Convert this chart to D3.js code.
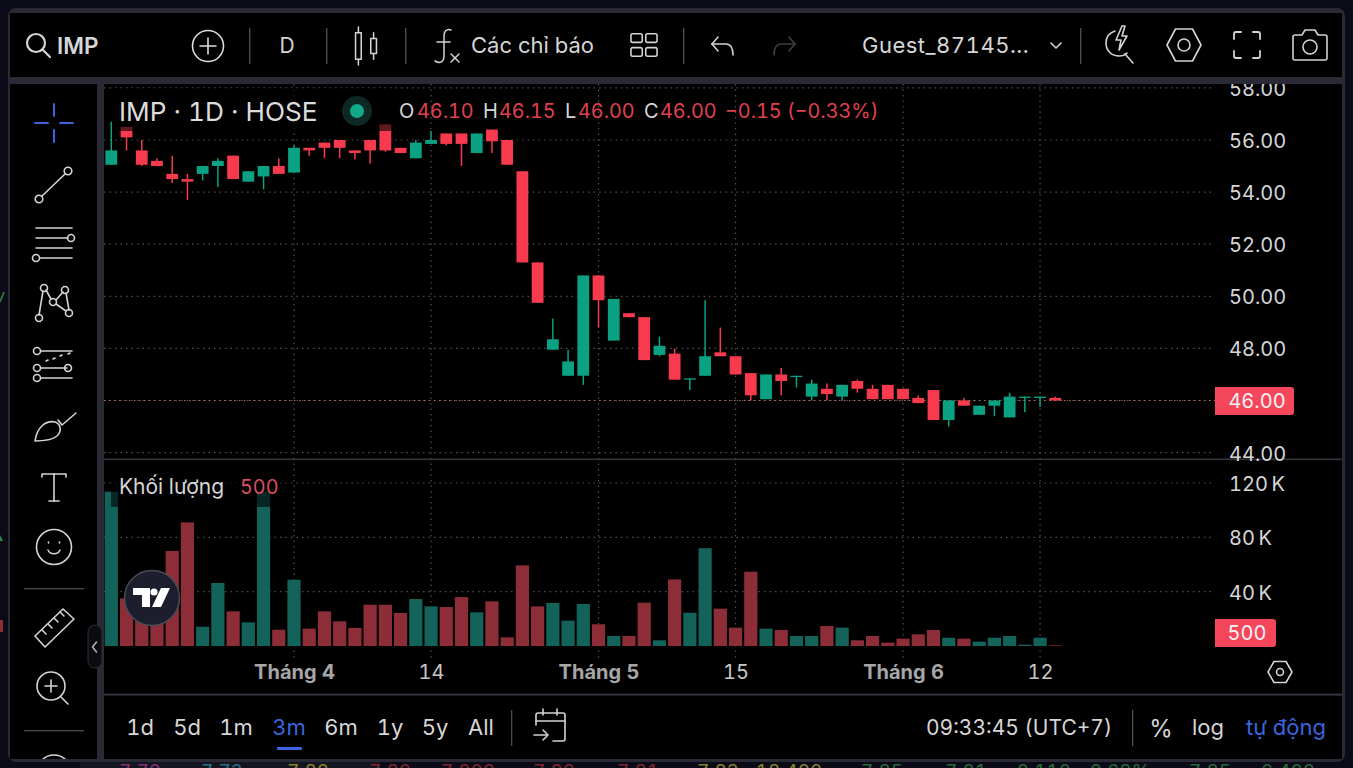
<!DOCTYPE html>
<html>
<head>
<meta charset="utf-8">
<title>IMP · 1D · HOSE</title>
<script src="https://cdn.jsdelivr.net/npm/d3@7/dist/d3.min.js"></script>
<style>
html,body{margin:0;padding:0;background:#0a0b17;overflow:hidden}
svg{display:block}
text{font-family:Inter,"Noto Sans",sans-serif;font-variant-numeric:tabular-nums}
</style>
</head>
<body>
<svg id="chart" width="1353" height="768"></svg>
<script>
// Daily OHLC prices for IMP
const opens = [55.05,56.5,55.6,55.2,54.7,54.5,54.7,55,55.4,54.4,54.6,55,54.75,55.7,55.9,56,55.6,56,56.6,55.7,55.3,55.85,56.25,56.25,55.5,56.4,56,54.8,51.3,47.95,46.95,46.95,50.8,48.3,49.35,49.2,47.75,47.8,46.8,46.95,47.85,47.7,47.05,46.05,47,46.9,46.15,46.45,46.15,46.75,46.45,46.6,46.45,46.1,46.4,45.25,46,45.45,45.8,45.35,46.1,46.1,46.1];
const highs = [56.7,56.5,56,55.3,55.4,54.7,55,55.3,55.4,54.8,55,55.3,55.8,55.7,55.9,56,55.6,56,56.6,55.7,56,56.35,56.25,56.25,56.25,56.4,56,54.8,51.3,49.15,47.95,50.8,50.8,49.9,49.35,49.2,48.45,48,46.85,49.85,48.8,47.7,47.05,47,47.25,46.95,46.8,46.65,46.6,46.8,46.6,46.6,46.45,46.2,46.4,46,46.1,45.8,46,46.3,46.15,46.15,46.15];
const lows = [55.05,55.6,55,55,54.35,53.7,54.45,54.2,54.5,54.4,54.1,54.7,54.75,55.4,55.3,55.3,55.25,55.1,55.55,55.5,55.3,55.85,55.8,55,55.5,55.5,55.05,51.3,49.75,47.95,46.95,46.6,48.8,48.3,49.2,47.55,47.7,46.8,46.4,46.95,47.7,47,46,46.05,46.2,46.5,46,46,46,46.3,46.05,46.05,46.05,45.9,45.25,45,45.8,45.45,45.4,45.35,45.55,45.75,46];
const closes = [55.6,56.1,55.05,55,54.5,54.4,55,55.2,54.5,54.8,55,54.7,55.7,55.6,55.7,55.7,55.5,55.6,55.6,55.5,55.9,56,55.85,55.85,56.25,55.95,55.05,51.3,49.75,48.35,47.5,50.8,49.85,49.9,49.2,47.55,48.1,46.8,46.85,47.7,47.7,47,46.2,47,46.75,46.95,46.65,46.25,46.6,46.45,46.05,46.05,46.05,45.9,45.25,46,45.8,45.8,46,46.15,46.15,46.15,46];
const volumes = [113600,35000,30000,38000,70000,91000,14200,46400,25500,17400,113600,12000,48800,12800,25500,18200,13300,30400,30400,24300,34600,29200,28700,36000,24800,32900,6400,59400,29200,31700,18700,30900,16000,7400,7400,31900,4200,49000,24500,72000,27500,13500,54700,12800,11800,7400,7400,14700,13500,4200,7400,2500,5400,8600,11800,6100,5400,3200,6100,7400,1000,6100,500];

// Axis ticks
const priceTicks = [44,46,48,50,52,54,56,58];
const volumeTicks = [40000,80000,120000];
const timeTickIndex = [12,21,32,41,52,61];
const timeTickLabels = ["Tháng 4","14","Tháng 5","15","Tháng 6","12"];
const monthTicks = ["Tháng 4","Tháng 5","Tháng 6"];

// Lower toolbar entries
const ranges = ["1d","5d","1m","3m","6m","1y","5y","All"];
const rangePositions = [140,187,236,289,341,390,435,481];
const activeRange = "3m";

// Quote readout
const lastPrice = 46.00;
const lastVolume = 500;
const quote = [["O","46.10"],["H","46.15"],["L","46.00"],["C","46.00"]];

// Table row peeking out under the window
const stripText = ["7.72","7.73","7.82","7.80","7.800","7.82","7.81","7.83","18,400","7.85","7.81","8.112","0.68%","7.85","6,400"];
const stripPos = [140,222,308,390,468,554,638,718,789,882,966,1044,1120,1210,1288];
const stripColor = ["#8a2c7c","#26708a","#8a8030","#80262c","#80262c","#80262c","#80262c","#8a8030","#8a8030","#256b38","#256b38","#256b38","#256b38","#256b38","#256b38"];

const UP = "#0aa283", DOWN = "#f73a4e";
const UP_VOL = "#13635a", DOWN_VOL = "#8d2d38";
const TXT = "#d6d6d6", BLUE = "#3c65dd", FRAME = "#2a2a36";

const svg = d3.select("#chart");

// Row behind the window
svg.append("rect").attr("x",80).attr("y",758).attr("width",300).attr("height",10).attr("fill","#15151f");
svg.selectAll("text.strip").data(stripText).join("text").attr("class","strip")
  .attr("x",(d,i)=>stripPos[i]).attr("y",778).attr("text-anchor","middle").attr("font-size",19)
  .attr("fill",(d,i)=>stripColor[i]).text(d=>d);

// Window frame and panels
svg.append("rect").attr("x",8).attr("y",8).attr("width",1337).attr("height",754).attr("rx",8).attr("fill",FRAME);
const panels = [[10,13,1332,64],[10,84,87,675],[104,84,1238,675]];
svg.selectAll("rect.panel").data(panels).join("rect").attr("class","panel")
  .attr("x",d=>d[0]).attr("y",d=>d[1]).attr("width",d=>d[2]).attr("height",d=>d[3]).attr("fill","#000");

const defs = svg.append("defs");
defs.append("clipPath").attr("id","pane")
  .append("rect").attr("x",104).attr("y",84).attr("width",1111).attr("height",610);
defs.append("clipPath").attr("id","tools")
  .append("rect").attr("x",-44).attr("y",-20).attr("width",87).attr("height",7);

// Scales
const x = d3.scaleLinear().domain([0,62]).range([111.3,1055.3]);
const y = d3.scaleLinear().domain([44,58]).range([452.6,87.9]);
const yV = d3.scaleLinear().domain([0,120000]).range([646,483]);

const fmtVol = d => (d/1000) + "\u2009K";

// Grid
const grid = svg.append("g").attr("clip-path","url(#pane)")
  .attr("stroke","#505050").attr("stroke-width",1.2).attr("stroke-dasharray","1.5 4");
grid.selectAll("line.h").data(priceTicks).join("line").attr("class","h")
  .attr("x1",104).attr("x2",1215).attr("y1",d=>y(d)).attr("y2",d=>y(d));
grid.selectAll("line.hv").data(volumeTicks).join("line").attr("class","hv")
  .attr("x1",104).attr("x2",1215).attr("y1",d=>yV(d)).attr("y2",d=>yV(d));
grid.selectAll("line.v").data(timeTickIndex).join("line").attr("class","v")
  .attr("x1",d=>x(d)).attr("x2",d=>x(d)).attr("y1",84).attr("y2",658);

// Last price line
svg.append("line").attr("x1",104).attr("x2",1215).attr("y1",y(lastPrice)).attr("y2",y(lastPrice))
  .attr("stroke","#b8665a").attr("stroke-width",1.2).attr("stroke-dasharray","1.5 3.5");

// Volume bars
const idx = d3.range(opens.length);
svg.append("g").attr("clip-path","url(#pane)").selectAll("rect").data(idx).join("rect")
  .attr("x",i=>x(i)-6.6).attr("width",13.2)
  .attr("y",i=>yV(volumes[i])).attr("height",i=>yV(0)-yV(volumes[i]))
  .attr("fill",i=>closes[i]>=opens[i]?UP_VOL:DOWN_VOL);

// Candles
const candles = svg.append("g").attr("clip-path","url(#pane)");
const cg = candles.selectAll("g").data(idx).join("g");
cg.append("line").attr("x1",i=>x(i)).attr("x2",i=>x(i))
  .attr("y1",i=>y(highs[i])).attr("y2",i=>y(lows[i])).attr("stroke-width",1.5)
  .attr("stroke",i=>closes[i]>=opens[i]?UP:DOWN);
cg.append("rect").attr("x",i=>x(i)-5.9).attr("width",11.8)
  .attr("y",i=>y(Math.max(opens[i],closes[i])))
  .attr("height",i=>Math.max(1.3,Math.abs(y(opens[i])-y(closes[i]))))
  .attr("fill",i=>closes[i]>=opens[i]?UP:DOWN);

// Dimmed backing behind the two legends
svg.append("rect").attr("x",113).attr("y",88).attr("width",280).attr("height",43).attr("fill","#000").attr("opacity",.6);
svg.append("rect").attr("x",111).attr("y",470).attr("width",170).attr("height",37).attr("fill","#000").attr("opacity",.6);

// Pane separators
svg.append("rect").attr("x",104).attr("y",458.5).attr("width",1238).attr("height",1.6).attr("fill","#34343f");
svg.append("rect").attr("x",104).attr("y",693.6).attr("width",1238).attr("height",2).attr("fill","#34343f");

// Price and volume axes
const axisStyle = g => {
  g.select(".domain").remove();
  g.selectAll(".tick line").remove();
  g.selectAll("text").attr("fill",TXT).attr("font-size",20).attr("font-family","Inter");
};
svg.append("g").attr("transform","translate(1229,1)")
  .call(d3.axisRight(y).tickValues(priceTicks).tickFormat(d3.format(".2f")).tickSize(0).tickPadding(0))
  .call(axisStyle);
svg.append("g").attr("transform","translate(1229,1)")
  .call(d3.axisRight(yV).tickValues(volumeTicks).tickFormat(fmtVol).tickSize(0).tickPadding(0))
  .call(axisStyle);

// Toolbar band drawn over the top price label
svg.append("rect").attr("x",10).attr("y",77).attr("width",1332).attr("height",7).attr("fill",FRAME);
svg.append("rect").attr("x",10).attr("y",13).attr("width",1332).attr("height",64).attr("fill","#000");

// Time axis
const timeAxis = svg.append("g").attr("transform","translate(0,667)")
  .call(d3.axisBottom(x).tickValues(timeTickIndex).tickFormat((d,i)=>timeTickLabels[i]).tickSize(0).tickPadding(0))
  .call(axisStyle);
timeAxis.selectAll("text").attr("dy","0.6em").attr("y",0)
  .attr("font-weight",(d,i)=>monthTicks.includes(timeTickLabels[i])?700:400)
  .attr("fill",(d,i)=>monthTicks.includes(timeTickLabels[i])?"#a6a6a6":"#c8c8c8");

// Last value tags
const tag = (x0,y0,w,h,text,tx) => {
  svg.append("path").attr("fill","#f5475c")
    .attr("d",`M${x0},${y0}H${x0+w-3}a3,3 0 0 1 3,3V${y0+h-3}a3,3 0 0 1 -3,3H${x0}Z`);
  svg.append("text").attr("x",tx).attr("y",y0+h/2+7).attr("fill","#f3f3f3").attr("font-size",20).attr("text-anchor","middle").text(text);
};
tag(1215,387,79,28,d3.format(".2f")(lastPrice),1257);
tag(1215,619,61,28,String(lastVolume),1247);

// Text helper
const label = (t,px,py,size,fill,anchor,weight) => svg.append("text").attr("x",px).attr("y",py)
  .attr("font-size",size).attr("fill",fill).attr("text-anchor",anchor||"start").attr("font-weight",weight||400).text(t);

// Symbol legend
label("IMP · 1D · HOSE",119,120.5,26.2,"#dcdcdc");
svg.append("circle").attr("cx",357).attr("cy",111).attr("r",15).attr("fill","#0e2825");
svg.append("circle").attr("cx",357).attr("cy",111).attr("r",7).attr("fill","#12a88a");
const ohlcX = [[399,417],[483,499],[565,578],[644,660]];
quote.forEach((q,i)=>{
  label(q[0],ohlcX[i][0],118,20,"#d6d6d6");
  label(q[1],ohlcX[i][1],118,19.8,"#e0414f");
});
label("−0.15 (−0.33%)",725,118,19.8,"#e0414f");

// Volume legend
label("Khối lượng",119,494,21,"#d6d6d6");
label(String(lastVolume),240,494,19.8,"#d9505e");

// Icons are thin stroked outlines
const icon = (px,py,paths,color,width,scale) => {
  const g = svg.append("g").attr("transform",`translate(${px},${py}) scale(${scale||1})`)
    .attr("fill","none").attr("stroke",color||"#d4d4d4").attr("stroke-width",width||1.8)
    .attr("stroke-linecap","round").attr("stroke-linejoin","round");
  paths.forEach(d=>g.append("path").attr("d",d));
  return g;
};
const ring = (cx,cy,r) => `M${cx-r},${cy}a${r},${r} 0 1 0 ${2*r},0a${r},${r} 0 1 0 ${-2*r},0`;
const hex = (rx,ry) => `M${-rx},0L${-rx/2},${-ry}H${rx/2}L${rx},0L${rx/2},${ry}H${-rx/2}Z`;

// Top toolbar
icon(38,45,[ring(-2,-2,9),"M4.5,4.5L12,12"],"#d4d4d4",2.2);
label("IMP",57,54,22.5,"#d6d6d6","start",600);
icon(208,46,[ring(0,0,15.5),"M-8,0H8","M0,-8V8"],"#dcdcdc",1.6);
[249,326,405,683,1080].forEach(s=>svg.append("rect").attr("x",s).attr("y",28).attr("width",1.4).attr("height",36).attr("fill","#4c4c4c"));
label("D",287,53,21,"#d6d6d6","middle");
icon(366,46,["M-8,-14V-20","M-8,14V20","M-11,-14H-5V14H-11Z","M8,-8V-14","M8,8V14","M5,-8H11V8H5Z"],"#d4d4d4",1.6,.95);
icon(443,46,["M8,-16C3,-18 1,-14 1,-10V10C1,16 -3,18 -8,15","M-6,-4H7","M8,8L16,16","M16,8L8,16"],"#d4d4d4",1.5);
label("Các chỉ báo",471,53,22,"#d6d6d6");
icon(644,45,["M-13,-13h9a2,2 0 0 1 2,2v6a2,2 0 0 1 -2,2h-9a2,2 0 0 1 -2,-2v-6a2,2 0 0 1 2,-2Z","M4,-13h9a2,2 0 0 1 2,2v6a2,2 0 0 1 -2,2h-9a2,2 0 0 1 -2,-2v-6a2,2 0 0 1 2,-2Z","M-13,3h9a2,2 0 0 1 2,2v6a2,2 0 0 1 -2,2h-9a2,2 0 0 1 -2,-2v-6a2,2 0 0 1 2,-2Z","M4,3h9a2,2 0 0 1 2,2v6a2,2 0 0 1 -2,2h-9a2,2 0 0 1 -2,-2v-6a2,2 0 0 1 2,-2Z"],"#d4d4d4",1.8,.87);
icon(722,46,["M-10,-2L-4,-9","M-10,-2L-4,5","M-10,-2H4C9,-2 11,3 11,9"],"#d4d4d4",1.6);
icon(785,46,["M10,-2L4,-9","M10,-2L4,5","M10,-2H-4C-9,-2 -11,3 -11,9"],"#3f3f3f",1.6);
label("Guest_87145...",862,53,22,"#d6d6d6").attr("letter-spacing",.5);
icon(1056,45,["M-5,-2L0,3L5,-2"],"#d4d4d4",1.6);
icon(1119,44,["M-4,-13C-10,-11 -13,-6 -13,-1C-13,7 -7,12 0,12C3,12 6,11 8,9","M6,10L14,19","M3,-18L-3,-4H2L0,6L8,-8H3L6,-18Z"],"#d4d4d4",1.6);
icon(1184,45,[hex(17,16),ring(0,0,6)],"#d4d4d4",1.6);
icon(1247,45,["M-13,-6V-11a2,2 0 0 1 2,-2H-6","M6,-13H11a2,2 0 0 1 2,2V-6","M13,6V11a2,2 0 0 1 -2,2H6","M-6,13H-11a2,2 0 0 1 -2,-2V6"],"#d4d4d4",1.8);
icon(1310,46,["M-17,-9a2,2 0 0 1 2,-2H-8L-5,-16H5L8,-11H15a2,2 0 0 1 2,2V12a2,2 0 0 1 -2,2H-15a2,2 0 0 1 -2,-2Z",ring(0,1,7)],"#d4d4d4",1.6);

// Drawing tools
icon(54,123,["M-19,0H-6","M6,0H19","M0,-19V-7","M0,7V19"],BLUE,2);
icon(54,185,[ring(-15,14,3.8),ring(14,-14,3.8),"M-12,11L11,-11"],"#d4d4d4",1.6);
icon(54,243,["M-18,-15H18","M-18,-5H14","M-18,5H18","M-14,15H18",ring(17,-5,3.5),ring(-18,15,3.5)],"#d4d4d4",1.6);
icon(54,304,[ring(-10,-16,3.5),ring(11,-14,3.5),ring(-1,-2,3.5),ring(-15,14,3.5),ring(15,9,3.5),"M-11,-13L-15,11","M-8,-14L-3,-5","M2,-4L9,-12","M12,-11L15,6","M2,0L12,7"],"#d4d4d4",1.6);
icon(54,367,["M-13,-16H18","M-13,1H13","M-13,11H18",ring(-17,-16,3.5),ring(-17,1,3.5),ring(14,1,3.5),ring(-17,11,3.5),"M-8,-6L-6,-7","M-1,-8L1,-9","M6,-11L8,-12","M14,-13L16,-14"],"#d4d4d4",1.6);
icon(54,428,["M-19,13C-17,-1 -8,-8 1,-6C7,-4 8,3 3,8C-2,12 -12,13 -19,13Z","M4,-8L8,-3L22,-15"],"#d4d4d4",1.6);
icon(54,487,["M-12,-10V-13H12V-10","M0,-13V14","M-5,14H5"],"#d4d4d4",1.6);
icon(54,547,[ring(0,0,17.5),"M-6,3C-4,8 4,8 6,3","M-5.5,-5V-4","M5.5,-5V-4"],"#d4d4d4",1.6);
[588,730].forEach(s=>svg.append("rect").attr("x",24).attr("y",s).attr("width",60).attr("height",1.3).attr("fill","#4a4a4a"));
icon(54,628,["M-19,8L9,-19L20,-9L-9,19Z","M-12,2L-8,6","M-6,-4L-2,0","M0,-10L4,-6","M6,-16L10,-12"],"#d4d4d4",1.6);
icon(52,687,[ring(-1,-1,14),"M-7,-1H5","M-1,-7V5","M9,10L16,17"],"#d4d4d4",1.6);
// Next tool in the column, cut off by the bottom of the window
icon(54,772,[ring(0,0,17)],"#d4d4d4",1.6).attr("clip-path","url(#tools)");

// Sidebar collapse handle
svg.append("rect").attr("x",88).attr("y",625).attr("width",14).attr("height",43).attr("rx",7).attr("fill","#0c0c10").attr("stroke","#2e2e38");
icon(94.5,647,["M2,-5L-2,0L2,5"],"#b0b0b0",1.6);

// Platform badge
svg.append("circle").attr("cx",152).attr("cy",598).attr("r",27.5).attr("fill","#1c1e2d").attr("stroke","#4a4c57").attr("stroke-width",1.5);
const badge = svg.append("g").attr("transform","translate(133,588)").attr("fill","#fff");
badge.append("path").attr("d","M0,0H17V19H9V7H0Z");
badge.append("circle").attr("cx",21).attr("cy",4).attr("r",3.6);
badge.append("path").attr("d","M28,0H37L28,19H19Z");

// Range selector and session controls
ranges.forEach((r,i)=>label(r,rangePositions[i],735,22,r===activeRange?BLUE:"#d6d6d6","middle"));
svg.append("rect").attr("x",277).attr("y",747).attr("width",25).attr("height",3).attr("rx",1).attr("fill",BLUE);
svg.append("rect").attr("x",511).attr("y",710).attr("width",1.3).attr("height",36).attr("fill","#4c4c4c");
svg.append("rect").attr("x",1132).attr("y",710).attr("width",1.3).attr("height",36).attr("fill","#4c4c4c");
icon(550,727,["M-14,-2V-12a2,2 0 0 1 2,-2H13a2,2 0 0 1 2,2V12a2,2 0 0 1 -2,2H3","M-14,-6H15","M-7,-18V-12","M7,-18V-12","M-16,8H-3","M-7,3L-2,8L-7,13"],"#d4d4d4",1.6);
label("09:33:45 (UTC+7)",926,735,21,"#d6d6d6");
label("%",1161,737,24,"#d6d6d6","middle");
label("log",1208,735,22,"#d6d6d6","middle");
label("tự động",1326,735,22,BLUE,"end");

// Price-scale settings
icon(1280,672,[hex(12,10.5),ring(0,0,3.5)],"#d4d4d4",1.6);

// Neighbouring content at the left page edge
svg.append("path").attr("d","M0,302L4,292").attr("stroke","#2f8a45").attr("stroke-width",1.4);
svg.append("path").attr("d","M0,535L3,541H0Z").attr("fill","#2f8a45");
svg.append("rect").attr("x",0).attr("y",620).attr("width",3).attr("height",12).attr("fill","#8d2d38");
</script>
</body>
</html>
